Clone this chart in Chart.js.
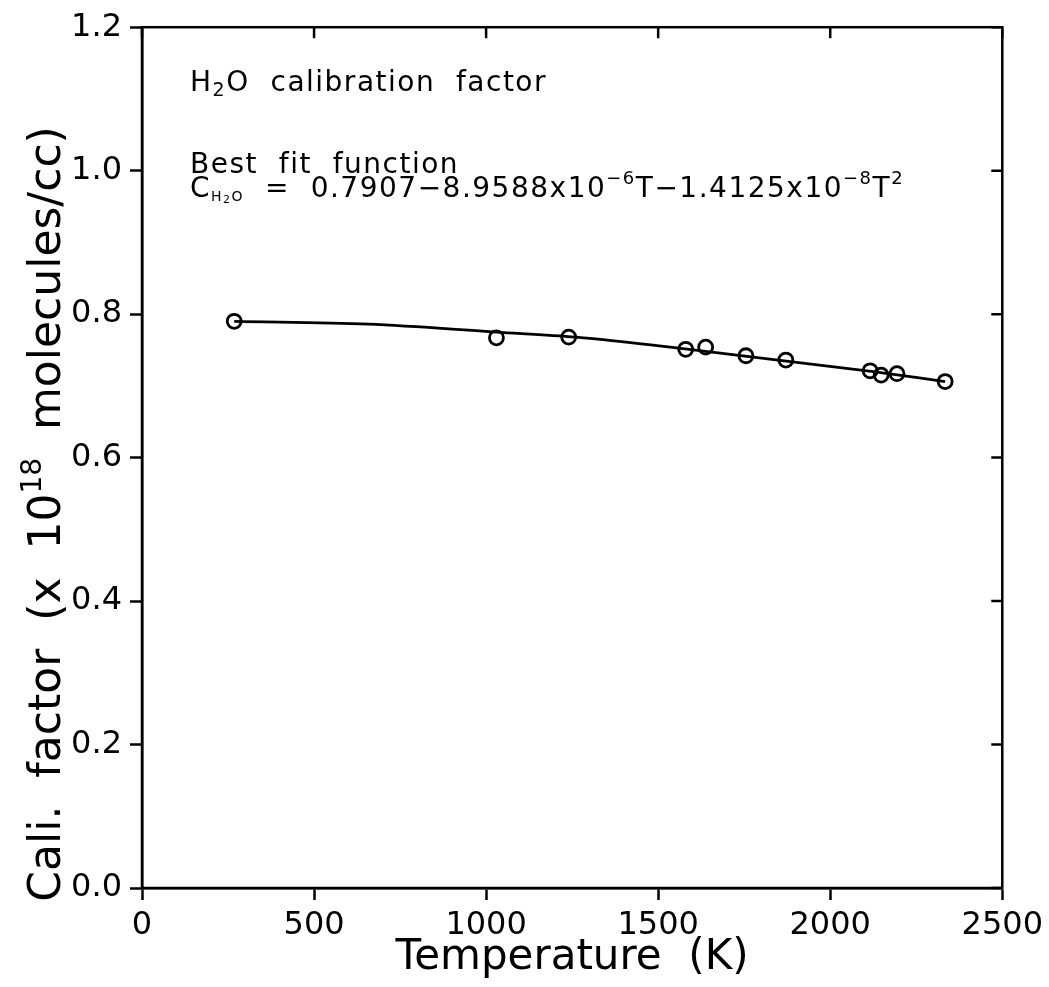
<!DOCTYPE html>
<html>
<head>
<meta charset="utf-8">
<script src="https://cdn.jsdelivr.net/npm/chart.js@4.4.1/dist/chart.umd.min.js"></script>
<style>
  body { margin: 0; background: #fff; }
  canvas { display: block; }
</style>
</head>
<body>
<canvas id="myChart" width="1049" height="987"></canvas>
<script>
// measured points (T in K, factor in 1e18 molecules/cc)
const temps   = [268, 1030, 1240, 1580, 1638, 1755, 1871, 2116, 2148, 2194, 2334];
const factors = [0.790, 0.767, 0.768, 0.751, 0.754, 0.742, 0.736, 0.721, 0.715, 0.717, 0.706];

// best fit curve
const fitTemps   = [268, 658, 1030, 1260, 1590, 2125, 2334];
const fitFactors = [0.790, 0.786, 0.775, 0.768, 0.751, 0.720, 0.706];

const xTicks = [0, 500, 1000, 1500, 2000, 2500];
const yTicks = [0.0, 0.2, 0.4, 0.6, 0.8, 1.0, 1.2];

const FONT = "'DejaVu Sans', sans-serif";

function pts(xs, ys) {
  return xs.map((x, i) => ({ x: x, y: ys[i] }));
}

// draw a run of text pieces, each {t, size, dy}
function drawPieces(ctx, x, y, pieces) {
  pieces.forEach(p => {
    ctx.font = p.size + "px " + FONT;
    ctx.fillText(p.t, x, y + (p.dy || 0));
    x += ctx.measureText(p.t).width;
  });
  return x;
}

const frame = {
  id: 'frame',
  afterDraw(chart) {
    const ctx = chart.ctx;
    const a = chart.chartArea;
    const xs = chart.scales.x, ys = chart.scales.y;
    ctx.save();
    ctx.strokeStyle = '#000';
    ctx.lineWidth = 2.5;
    ctx.strokeRect(a.left, a.top, a.right - a.left, a.bottom - a.top);
    // inward ticks on top and right
    ctx.beginPath();
    xTicks.forEach(v => {
      const px = xs.getPixelForValue(v);
      ctx.moveTo(px, a.top);
      ctx.lineTo(px, a.top + 11);
    });
    yTicks.forEach(v => {
      const py = ys.getPixelForValue(v);
      ctx.moveTo(a.right, py);
      ctx.lineTo(a.right - 11, py);
    });
    ctx.stroke();

    // annotations
    ctx.fillStyle = '#000';
    ctx.textBaseline = 'alphabetic';
    ctx.textAlign = 'left';
    ctx.letterSpacing = '1.5px';
    const lx = a.left + 48;
    drawPieces(ctx, lx, 91, [
      { t: 'H', size: 28 }, { t: '2', size: 19, dy: 5 }, { t: 'O  calibration  factor', size: 28 }
    ]);
    drawPieces(ctx, lx, 173, [{ t: 'Best  fit  function', size: 28 }]);
    drawPieces(ctx, lx, 197, [
      { t: 'C', size: 28 }, { t: 'H', size: 14, dy: 4 }, { t: '2', size: 11, dy: 6 }, { t: 'O', size: 14, dy: 4 },
      { t: '  =  0.7907\u22128.9588x10', size: 28 },
      { t: '\u22126', size: 18, dy: -13 },
      { t: 'T\u22121.4125x10', size: 28 },
      { t: '\u22128', size: 18, dy: -13 },
      { t: 'T', size: 28 },
      { t: '2', size: 18, dy: -13 }
    ]);
    ctx.letterSpacing = '0px';

    // y axis title with superscript
    const pieces = [
      { t: 'Cali.  factor  (x  10', size: 44 },
      { t: '18', size: 28, dy: -19 },
      { t: '  molecules/cc)', size: 44 }
    ];
    let w = 0;
    pieces.forEach(p => { ctx.font = p.size + 'px ' + FONT; w += ctx.measureText(p.t).width; });
    ctx.translate(60, 514);
    ctx.rotate(-Math.PI / 2);
    drawPieces(ctx, -w / 2, 0, pieces);
    ctx.restore();
  }
};

new Chart(document.getElementById('myChart'), {
  type: 'scatter',
  data: {
    datasets: [
      {
        label: 'Best fit',
        data: pts(fitTemps, fitFactors),
        showLine: true,
        borderColor: '#000',
        borderWidth: 2.8,
        pointRadius: 0,
        tension: 0.4,
        cubicInterpolationMode: 'monotone'
      },
      {
        label: 'H2O calibration factor',
        data: pts(temps, factors),
        borderColor: '#000',
        backgroundColor: 'rgba(0,0,0,0)',
        borderWidth: 2.8,
        pointRadius: 7,
        pointStyle: 'circle'
      }
    ]
  },
  options: {
    responsive: false,
    animation: false,
    layout: { padding: { top: 25, right: 41, left: 0, bottom: 0 } },
    plugins: { legend: { display: false }, tooltip: { enabled: false } },
    scales: {
      x: {
        type: 'linear',
        min: 0, max: 2500,
        afterFit(s) { s.height = 99; },
        afterBuildTicks(s) { s.ticks = xTicks.map(v => ({ value: v })); },
        ticks: { color: '#000', font: { family: FONT, size: 32 }, padding: 6, maxRotation: 0, callback: v => String(v) },
        grid: { drawOnChartArea: false, drawTicks: true, tickLength: 12, tickWidth: 2.5, tickColor: '#000' },
        border: { display: true, color: '#000', width: 2.5 },
        title: { display: true, text: 'Temperature  (K)', color: '#000', font: { family: FONT, size: 42 }, padding: { top: 0, bottom: 4 } }
      },
      y: {
        type: 'linear',
        min: 0, max: 1.2,
        afterFit(s) { s.width = 142; },
        afterBuildTicks(s) { s.ticks = yTicks.map(v => ({ value: v })); },
        ticks: { color: '#000', font: { family: FONT, size: 32 }, padding: 8, callback: v => v.toFixed(1) },
        grid: { drawOnChartArea: false, drawTicks: true, tickLength: 12, tickWidth: 2.5, tickColor: '#000' },
        border: { display: true, color: '#000', width: 2.5 }
      }
    }
  },
  plugins: [frame]
});
</script>
</body>
</html>
